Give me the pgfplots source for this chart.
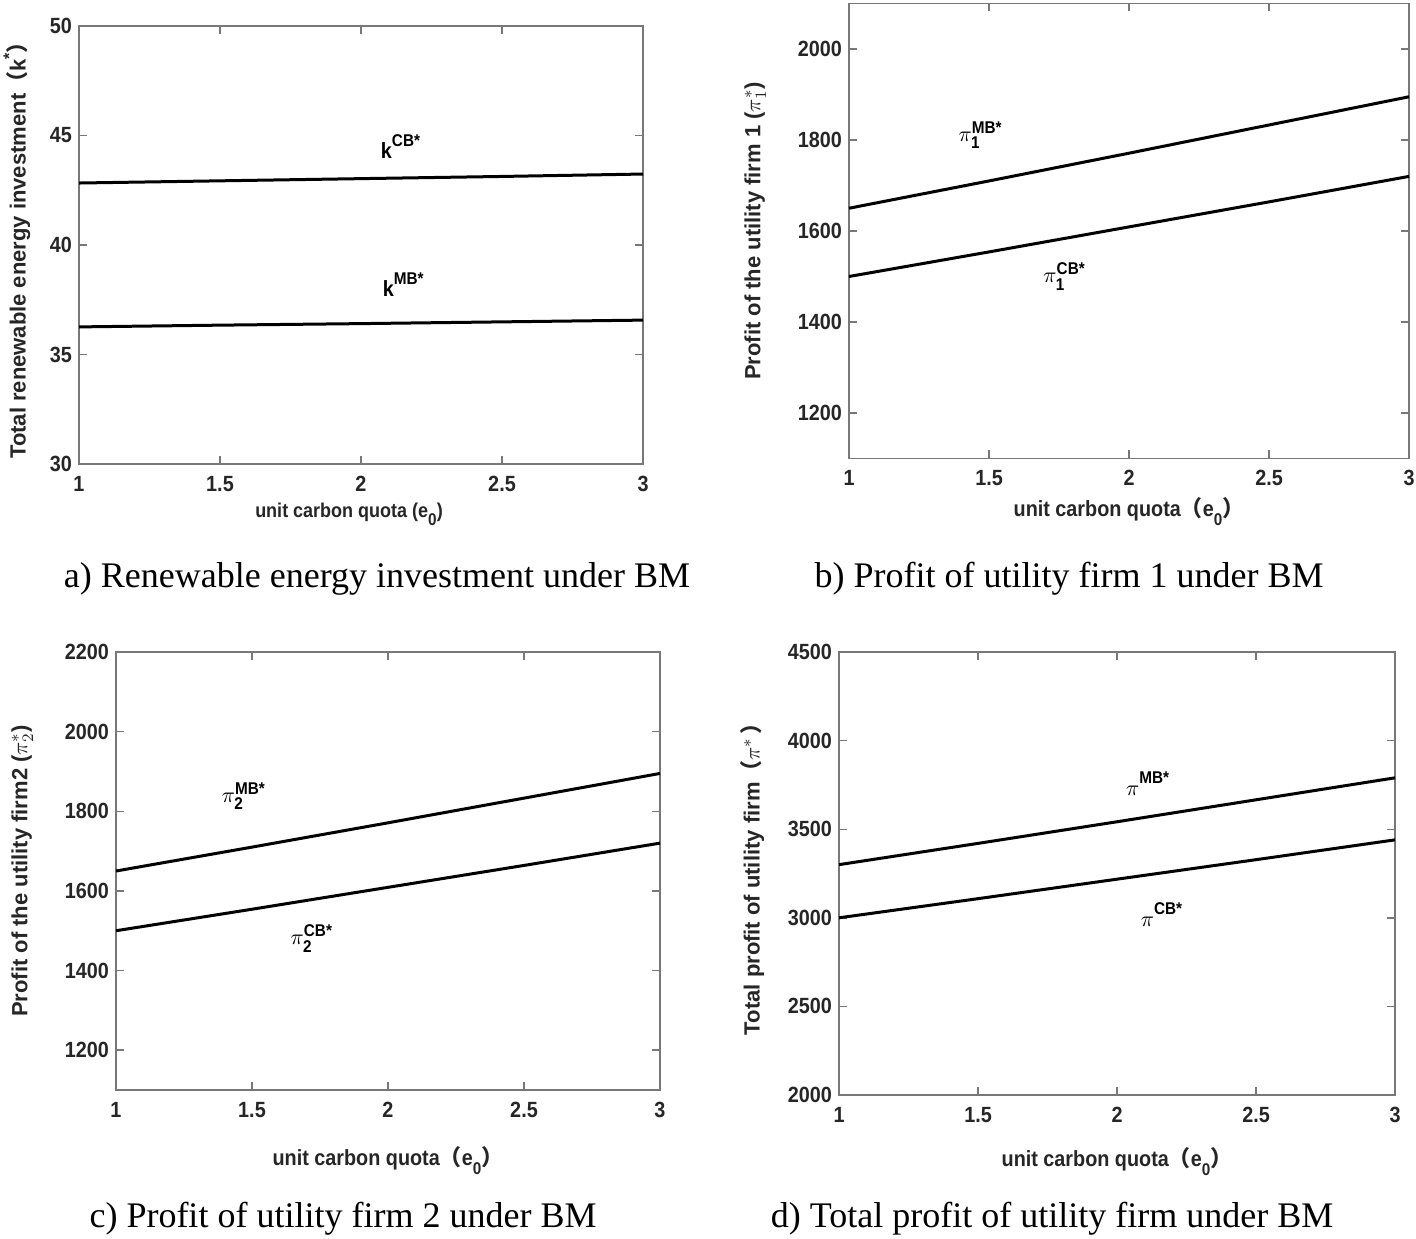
\documentclass[border=0pt]{standalone}
\usepackage{pgfplots}
\pgfplotsset{compat=1.18}
\usepackage{amsmath}
\usepackage{fontspec}
\setmainfont{Liberation Serif}
\setsansfont{Liberation Sans}
\newfontfamily\tfont{Liberation Sans}[FakeStretch=0.9]
\newfontfamily\cjk{Noto Sans CJK SC}
\newcommand{\lp}{{\cjk（}}
\newcommand{\rp}{{\cjk）}}
\newcommand{\sub}[1]{\raisebox{-0.4em}{\fontsize{8.5}{9}\selectfont #1}}
\newcommand{\sups}[1]{\raisebox{0.55em}{\fontsize{8.5}{9}\selectfont #1}}
\newcommand{\pisym}[2]{$\pi^{\text{\tfont\bfseries\fontsize{8.5}{9}\selectfont #1}}_{\text{\tfont\bfseries\fontsize{8.5}{9}\selectfont #2}}$}
\definecolor{axgray}{RGB}{120,120,120}
\definecolor{txt}{RGB}{38,38,38}
\tikzset{ann/.style={font=\tfont\bfseries\fontsize{11}{13}\selectfont, text=black}}
\pgfplotsset{
  bm/.style={
    scale only axis,
    anchor=south west,
    xmin=1, xmax=3,
    xtick={1,1.5,2,2.5,3},
    tick align=inside,
    major tick length=4pt,
    axis line style={axgray, line width=0.7pt},
    every tick/.style={axgray, line width=0.7pt},
    tick label style={font=\tfont\bfseries\fontsize{11}{13}\selectfont, text=txt},
    xticklabel shift=2.5pt,
    xlabel style={font=\tfont\bfseries\fontsize{11}{13}\selectfont, text=txt},
    ylabel style={font=\sffamily\bfseries\fontsize{11}{12}\selectfont, text=txt},
    /pgf/number format/assume math mode=true,
    /pgf/number format/1000 sep={},
    clip=false,
  },
  curve/.style={black, line width=1.5pt, no marks},
}
\begin{document}
\begin{tikzpicture}
\useasboundingbox (0,0) rectangle (708pt,619pt);

% ---------------- panel a ----------------
\begin{axis}[bm,
  at={(39.5pt,387pt)}, width=282pt, height=219pt,
  ymin=30, ymax=50, ytick={30,35,40,45,50},
  xlabel={\fontsize{10}{12}\selectfont unit carbon quota (e\sub{0})},
  xlabel style={xshift=-6pt},
  ylabel={Total renewable energy investment\lp k\raisebox{0.5em}{\fontsize{8}{9}\selectfont *}\rp},
  ylabel shift=3pt, xlabel shift=-1pt]
\addplot[curve] coordinates {(1,42.83) (1.5,42.93) (2,43.03) (2.5,43.13) (3,43.24)};
\addplot[curve] coordinates {(1,36.26) (1.5,36.34) (2,36.41) (2.5,36.49) (3,36.57)};
\node[ann] at (axis cs:2.14,44.5) {k\sups{CB*}};
\node[ann] at (axis cs:2.15,38.2) {k\sups{MB*}};
\end{axis}

% ---------------- panel b ----------------
\begin{axis}[bm,
  at={(424.5pt,389.75pt)}, width=280pt, height=227.5pt,
  ymin=1100, ymax=2100, ytick={1200,1400,1600,1800,2000},
  xlabel={unit carbon quota\lp e\sub{0}\rp},
  ylabel={Profit of the utility firm 1 ($\pi^{*}_{1}$)},
  ylabel shift=9pt, xlabel shift=-1pt]
\addplot[curve] coordinates {(1,1650) (1.5,1710) (2,1771) (2.5,1833) (3,1895)};
\addplot[curve] coordinates {(1,1500) (1.5,1554) (2,1609) (2.5,1664) (3,1720)};
\node[ann] at (axis cs:1.47,1810) {\pisym{MB*}{1}};
\node[ann] at (axis cs:1.77,1500) {\pisym{CB*}{1}};
\end{axis}

% ---------------- panel c ----------------
\begin{axis}[bm,
  at={(58pt,74pt)}, width=272pt, height=219pt,
  ymin=1100, ymax=2200, ytick={1200,1400,1600,1800,2000,2200},
  xlabel={unit carbon quota\lp e\sub{0}\rp},
  ylabel={Profit of the utility firm2 ($\pi^{*}_{2}$)},
  ylabel shift=9pt, xlabel shift=7.5pt]
\addplot[curve] coordinates {(1,1650) (1.5,1710) (2,1771) (2.5,1833) (3,1895)};
\addplot[curve] coordinates {(1,1500) (1.5,1554) (2,1609) (2.5,1664) (3,1720)};
\node[ann] at (axis cs:1.47,1838) {\pisym{MB*}{2}};
\node[ann] at (axis cs:1.72,1480) {\pisym{CB*}{2}};
\end{axis}

% ---------------- panel d ----------------
\begin{axis}[bm,
  at={(419.5pt,71.5pt)}, width=278pt, height=221.5pt,
  ymin=2000, ymax=4500, ytick={2000,2500,3000,3500,4000,4500},
  xlabel={unit carbon quota\lp e\sub{0}\rp},
  ylabel={Total profit of utility firm\lp$\pi^{*}$\,\rp},
  ylabel shift=5pt, xlabel shift=5.5pt]
\addplot[curve] coordinates {(1,3300) (1.5,3420) (2,3542) (2.5,3666) (3,3790)};
\addplot[curve] coordinates {(1,3000) (1.5,3108) (2,3218) (2.5,3328) (3,3440)};
\node[ann] at (axis cs:2.11,3755) {$\pi$\sups{MB*}};
\node[ann] at (axis cs:2.16,3020) {$\pi$\sups{CB*}};
\end{axis}

% ---------------- captions ----------------
\node[font=\fontsize{18}{20}\selectfont] at (188.5pt,329.5pt) {a) Renewable energy investment under BM};
\node[font=\fontsize{18}{20}\selectfont] at (534.5pt,329.5pt) {b) Profit of utility firm 1 under BM};
\node[font=\fontsize{18}{20}\selectfont] at (171.5pt,9.5pt) {c) Profit of utility firm 2 under BM};
\node[font=\fontsize{18}{20}\selectfont] at (526pt,9.5pt) {d) Total profit of utility firm under BM};
\end{tikzpicture}
\end{document}
